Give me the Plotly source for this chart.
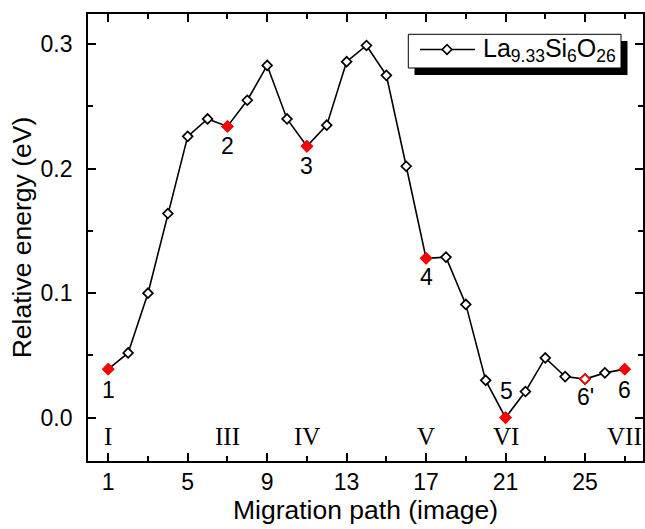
import plotly.graph_objects as go

# ---- data ----
images = list(range(1, 28))
energy = [0.039, 0.052, 0.100, 0.164, 0.226, 0.240, 0.234, 0.255, 0.283,
          0.240, 0.218, 0.235, 0.286, 0.299, 0.275, 0.202, 0.128, 0.129,
          0.091, 0.030, 0.000, 0.021, 0.048, 0.033, 0.031, 0.036, 0.039]

red_filled_images = [1, 7, 11, 17, 21, 27]
red_open_images = [25]

point_label_images = [1, 7, 11, 17, 21, 25, 27]
point_label_texts = ["1", "2", "3", "4", "5", "6'", "6"]

roman_images = [1, 7, 11, 17, 21, 27]
roman_texts = ["I", "III", "IV", "V", "VI", "VII"]
roman_level = -0.0155

x_tickvals = [1, 5, 9, 13, 17, 21, 25]
y_tickvals = [0.0, 0.1, 0.2, 0.3]
y_ticktext = ["0.0", "0.1", "0.2", "0.3"]

series_name = "La<sub>9.33</sub>Si<sub>6</sub>O<sub>26</sub>"
x_title = "Migration path (image)"
y_title = "Relative energy (eV)"

# ---- style ----
W, H = 645, 529
ML, MR, MT, MB = 88, 2, 14, 68
SANS = "Liberation Sans, Arial, sans-serif"
SERIF = "Liberation Serif, Times New Roman, serif"
label_yshift = {"1": -21, "2": -20, "3": -20, "4": -19, "5": 27, "6'": -18, "6": -21}
label_xshift = {"5": 1}

pw = W - ML - MR
ph = H - MT - MB


def px_x(p):
    return (p - ML) / pw


def px_y(p):
    return (H - MB - p) / ph


e_of = dict(zip(images, energy))

fig = go.Figure()
fig.add_trace(go.Scatter(
    x=images, y=energy, mode="lines+markers", name=series_name,
    line=dict(color="black", width=1.6),
    marker=dict(symbol="diamond", size=7.5, color="white",
                line=dict(color="black", width=1.7)),
    showlegend=False,
))
fig.add_trace(go.Scatter(
    x=red_filled_images, y=[e_of[i] for i in red_filled_images],
    mode="markers", showlegend=False,
    marker=dict(symbol="diamond", size=8, color="#ff0000",
                line=dict(color="#ff0000", width=1.8)),
))
fig.add_trace(go.Scatter(
    x=red_open_images, y=[e_of[i] for i in red_open_images],
    mode="markers", showlegend=False,
    marker=dict(symbol="diamond", size=7.5, color="white",
                line=dict(color="#ff0000", width=1.8)),
))

for i, t in zip(point_label_images, point_label_texts):
    fig.add_annotation(x=i, y=e_of[i], text=t, showarrow=False,
                       xshift=label_xshift.get(t, 0), yshift=label_yshift[t],
                       font=dict(family=SANS, size=23, color="black"))

for i, t in zip(roman_images, roman_texts):
    fig.add_annotation(x=i, y=roman_level, text=t, showarrow=False,
                       font=dict(family=SERIF, size=25, color="black"))

# legend box with drop shadow (drawn as shapes)
fig.add_shape(type="rect", xref="paper", yref="paper",
              x0=px_x(414.5), x1=px_x(627.5), y0=px_y(75), y1=px_y(41),
              fillcolor="black", line=dict(width=0), layer="above")
fig.add_shape(type="rect", xref="paper", yref="paper",
              x0=px_x(408.3), x1=px_x(621), y0=px_y(68), y1=px_y(34.3),
              fillcolor="white", line=dict(color="black", width=1), layer="above")
# legend sample: line + diamond
fig.add_shape(type="line", xref="paper", yref="paper",
              x0=px_x(420), x1=px_x(475), y0=px_y(49.5), y1=px_y(49.5),
              line=dict(color="black", width=1.6), layer="above")
fig.add_shape(type="path", xref="paper", yref="paper",
              xsizemode="pixel", ysizemode="pixel",
              xanchor=px_x(447), yanchor=px_y(49.5),
              path="M-4.8,0 L0,4.8 L4.8,0 L0,-4.8 Z",
              fillcolor="white", line=dict(color="black", width=1.7),
              layer="above")
fig.add_annotation(xref="paper", yref="paper", x=px_x(481), y=px_y(50),
                   xanchor="left", yanchor="middle", text=series_name,
                   showarrow=False,
                   font=dict(family=SANS, size=25, color="black"))

axis_common = dict(
    showline=True, linecolor="black", linewidth=1.7, mirror="allticks",
    ticks="inside", ticklen=8, tickwidth=1.5, tickcolor="black",
    showgrid=False, zeroline=False,
    tickfont=dict(family=SANS, size=23, color="black"),
)

fig.update_xaxes(
    **axis_common, range=[-0.02, 27.92], tickvals=x_tickvals,
    minor=dict(ticks="inside", ticklen=5, tickwidth=1.5, tickcolor="black",
               tick0=1, dtick=2, showgrid=False),
    title=dict(text=x_title, font=dict(family=SANS, size=26.5, color="black"),
               standoff=4),
)
fig.update_yaxes(
    **axis_common, range=[-0.0348, 0.3243], tickvals=y_tickvals,
    ticktext=y_ticktext, ticklabelstandoff=9,
    minor=dict(ticks="inside", ticklen=5, tickwidth=1.5, tickcolor="black",
               tick0=0, dtick=0.05, showgrid=False),
    title=dict(text=y_title, font=dict(family=SANS, size=26.5, color="black"),
               standoff=1),
)

fig.update_layout(
    width=W, height=H,
    margin=dict(l=ML, r=MR, t=MT, b=MB, autoexpand=False),
    paper_bgcolor="white", plot_bgcolor="white",
    showlegend=False,
)

fig.write_html("out.html", config={"displayModeBar": False},
               post_script="document.body.style.margin='0';"
                           "document.body.style.overflow='hidden';")
